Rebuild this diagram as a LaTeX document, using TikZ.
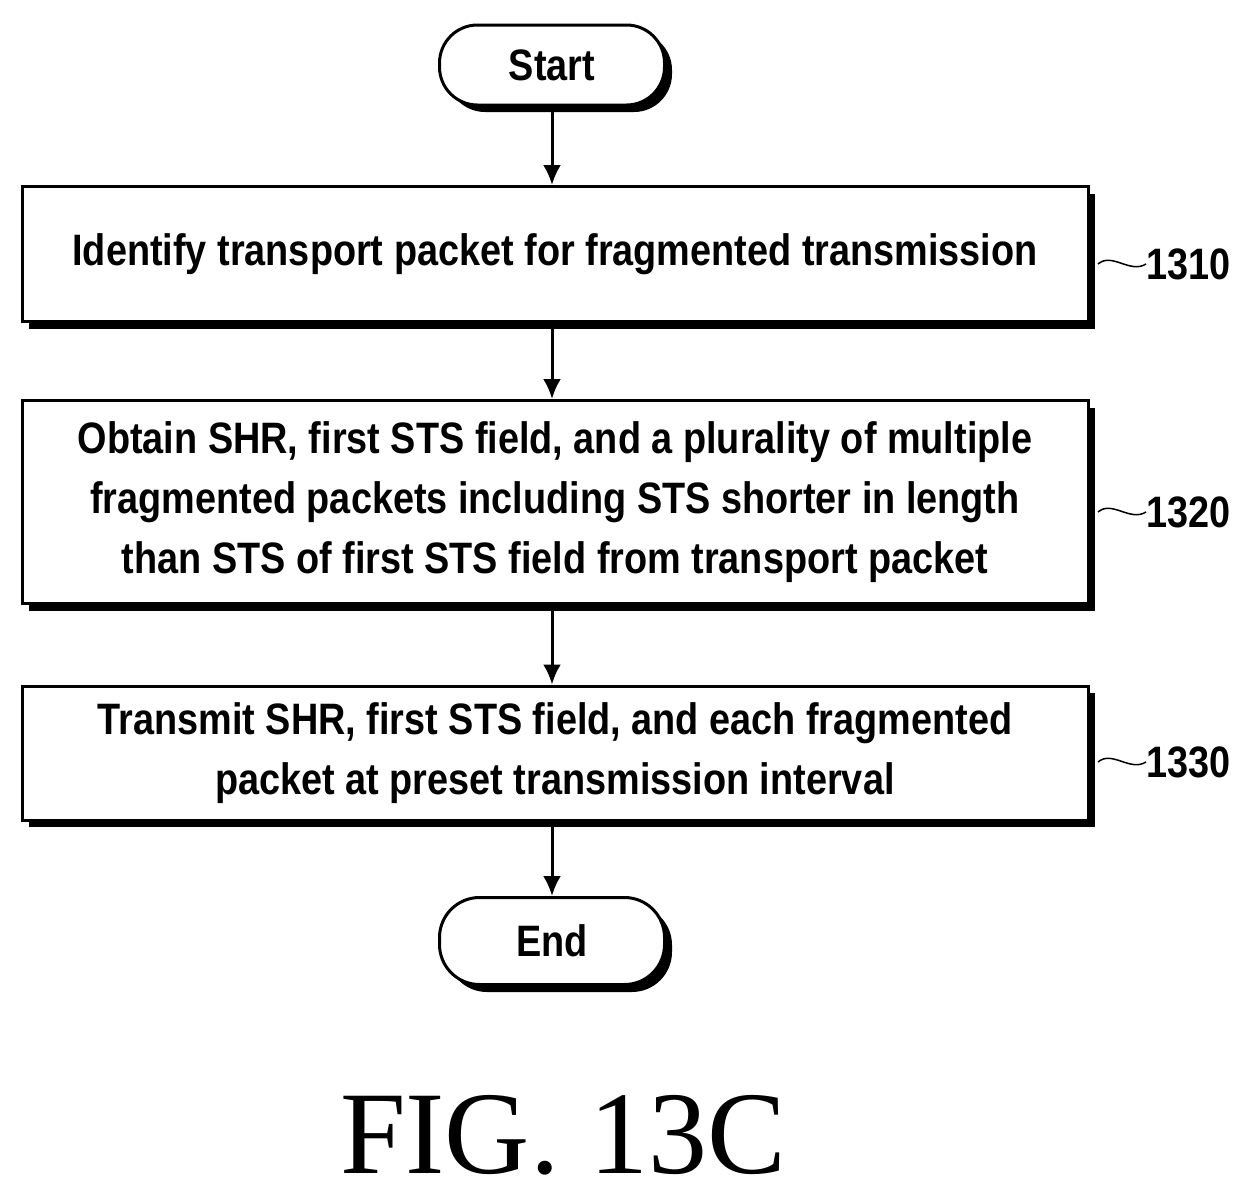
\documentclass[tikz,border=0pt]{standalone}
\usepackage{fontspec}
\setmainfont[FakeStretch=0.86,BoldFeatures={FakeStretch=0.86}]{Liberation Sans}
\newfontfamily\figfont{Liberation Serif}
\usetikzlibrary{arrows.meta}
\begin{document}
\begin{tikzpicture}[x=1pt,y=-1pt,
  box/.style={draw,line width=3pt,fill=white,minimum width=1066pt,align=center,font=\bfseries\fontsize{44}{60}\selectfont,inner sep=0pt},
  pill/.style={draw,line width=3pt,fill=white,rounded corners=38pt,minimum width=225pt,minimum height=80pt,font=\bfseries\fontsize{44}{52}\selectfont},
  arr/.style={line width=3pt,-{Latex[length=20pt,width=18pt]}},
  lbl/.style={font=\bfseries\fontsize{44}{52}\selectfont,anchor=west,inner sep=0pt}]
\useasboundingbox (0,0) rectangle (1256,1197);
\fill[white] (0,0) rectangle (1256,1197);
\foreach \y/\h in {254/135,502/203,753/134}{\fill (29,\y-\h/2+7) rectangle (1095,\y+\h/2+7);}
\fill[rounded corners=38pt] (447,32) rectangle (672,112);
\fill[rounded corners=40pt] (447,905) rectangle (672,992);
\node[pill] (s) at (552,65) {Start};
\node[box,minimum height=135pt] (a) at (555,254) {Identify transport packet for fragmented transmission};
\node[box,minimum height=203pt] (b) at (555,502) {Obtain SHR, first STS field, and a plurality of multiple\\fragmented packets including STS shorter in length\\than STS of first STS field from transport packet};
\node[box,minimum height=134pt] (c) at (555,753) {Transmit SHR, first STS field, and each fragmented\\packet at preset transmission interval};
\node[pill,minimum height=87pt,rounded corners=40pt] (e) at (552,941) {End};
\draw[arr] (s.south) -- (s.south|-a.north);
\draw[arr] (a.south-|s) -- (s.south|-b.north);
\draw[arr] (b.south-|s) -- (s.south|-c.north);
\draw[arr] (c.south-|s) -- (e.north);
\foreach \n/\y/\t in {l1/264/1310,l2/512/1320,l3/762/1330}{
  \node[lbl] (\n) at (1146,\y) {\t};
  \coordinate (\n a) at (1098,\y);
  \draw[line width=1.5pt] (\n a) .. controls (1112,\y-12) and (1130,\y+10) .. (\n.west);
}
\node[font=\figfont\fontsize{118}{130}\selectfont] (f) at (563,1135) {FIG. 13C};
\end{tikzpicture}
\end{document}
